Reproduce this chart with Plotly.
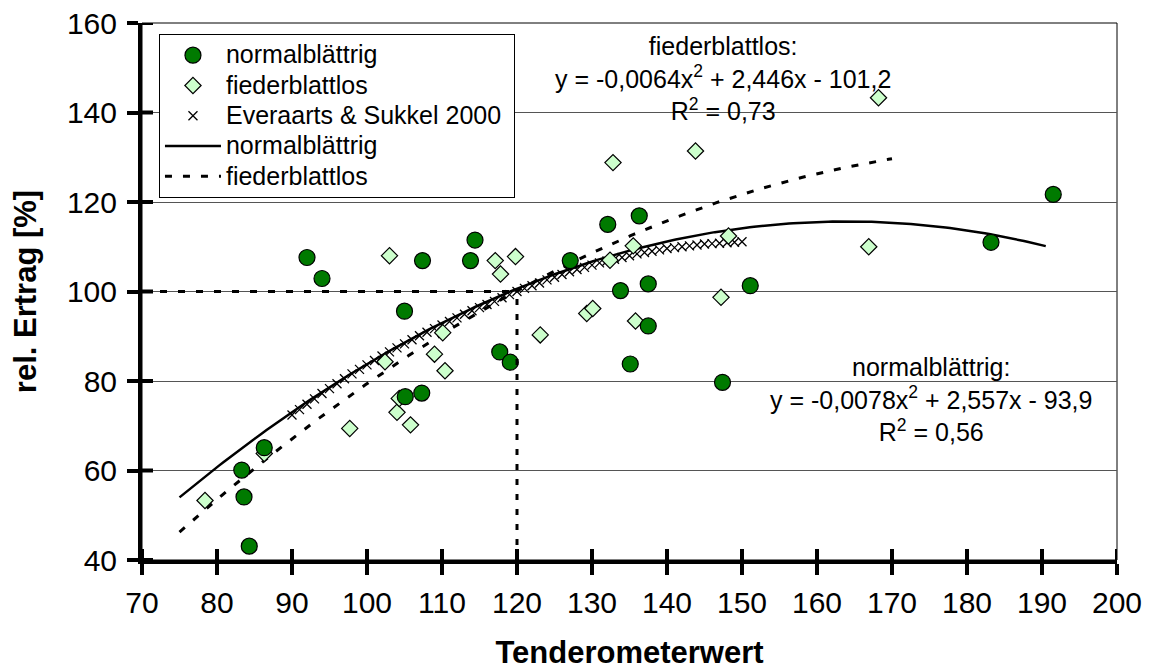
import numpy as np
import plotly.graph_objects as go

# --- measured data -------------------------------------------------------
# normalblättrig (normal-leaved) varieties: tenderometer value, relative yield
normal_tm = [83.3, 83.6, 84.3, 86.3, 92.0, 94.0, 105.0, 105.1, 107.3, 107.4,
             113.8, 114.4, 117.7, 119.1, 127.1, 132.1, 133.8, 135.1, 136.3,
             137.5, 137.5, 147.4, 151.1, 183.2, 191.5]
normal_yield = [60.1, 54.1, 43.1, 65.1, 107.6, 102.9, 95.6, 76.5, 77.3, 106.9,
                106.9, 111.5, 86.5, 84.2, 106.9, 115.0, 100.2, 83.8, 116.9,
                101.7, 92.3, 79.7, 101.3, 111.0, 121.7]

# fiederblattlos (semi-leafless) varieties
leafless_tm = [78.4, 86.3, 97.7, 102.4, 103.0, 104.0, 104.3, 105.8, 109.0,
               110.1, 110.4, 117.1, 117.8, 119.8, 123.1, 129.3, 130.1, 132.4,
               132.8, 135.5, 135.8, 143.8, 147.2, 148.2, 166.9, 168.2]
leafless_yield = [53.3, 63.8, 69.4, 84.3, 108.0, 73.0, 76.1, 70.2, 86.0,
                  90.8, 82.3, 106.9, 103.9, 107.8, 90.3, 95.1, 96.2, 107.0,
                  128.8, 110.2, 93.4, 131.4, 98.7, 112.4, 110.0, 143.3]

# Everaarts & Sukkel 2000 reference relation
everaarts_tm = list(range(90, 151))
everaarts_yield = [72.4, 73.6, 74.8, 76.0, 77.2, 78.3, 79.4, 80.5, 81.6, 82.6,
                   83.6, 84.6, 85.6, 86.5, 87.4, 88.3, 89.2, 90.1, 90.9, 91.7,
                   92.5, 93.3, 94.1, 94.9, 95.7, 96.4, 97.1, 97.8, 98.6, 99.3,
                   100.0, 100.7, 101.3, 101.9, 102.6, 103.2, 103.8, 104.4, 104.9,
                   105.4, 105.9, 106.4, 106.8, 107.2, 107.6, 108.0, 108.4, 108.7,
                   109.0, 109.3, 109.6, 109.8, 110.0, 110.2, 110.4, 110.6, 110.7,
                   110.8, 110.9, 111.0, 111.1]

# quadratic trend lines (coefficients a, b, c of y = a*x^2 + b*x + c)
normal_coef = (-0.0078, 2.557, -93.9)
normal_r2 = "0,56"
normal_span = (75, 190.5)
leafless_coef = (-0.0064, 2.446, -101.2)
leafless_r2 = "0,73"
leafless_span = (75, 170)

# reference point: tenderometer 120 = 100 % yield
ref_tm = 120
ref_yield = 100

x_range = [70, 200]
y_range = [40, 160]
x_ticks = list(range(70, 201, 10))
y_ticks = list(range(40, 161, 20))

FONT = "Liberation Sans, Arial, Helvetica, sans-serif"
GREEN = "#007a00"
LIGHT = "#ccffcc"


def trend(coef, span):
    xs = np.linspace(span[0], span[1], 200)
    a, b, c = coef
    return xs, a * xs ** 2 + b * xs + c


def legend_label(text):
    return f'<span style="font-size:25px">{text}</span>'


fig = go.Figure()

nx, ny = trend(normal_coef, normal_span)
lx, ly = trend(leafless_coef, leafless_span)

fig.add_trace(go.Scatter(x=nx, y=ny, mode="lines",
                         name=legend_label("normalblättrig"),
                         line=dict(color="black", width=2.5), legendrank=4))
fig.add_trace(go.Scatter(x=lx, y=ly, mode="lines",
                         name=legend_label("fiederblattlos"),
                         line=dict(color="black", width=3, dash="7px,11px"),
                         legendrank=5))
fig.add_trace(go.Scatter(x=everaarts_tm, y=everaarts_yield, mode="markers",
                         name=legend_label("Everaarts & Sukkel 2000&nbsp;"),
                         marker=dict(symbol="x-thin", size=9, color="black",
                                     line=dict(color="black", width=1.3)),
                         legendrank=3))
fig.add_trace(go.Scatter(x=leafless_tm, y=leafless_yield, mode="markers",
                         name=legend_label("fiederblattlos"),
                         marker=dict(symbol="diamond", size=12.5, color=LIGHT,
                                     line=dict(color="black", width=1.2)),
                         legendrank=2))
fig.add_trace(go.Scatter(x=normal_tm, y=normal_yield, mode="markers",
                         name=legend_label("normalblättrig"),
                         marker=dict(symbol="circle", size=16, color=GREEN,
                                     line=dict(color="black", width=1.2)),
                         legendrank=1))

# dashed guide lines to the reference point
fig.add_shape(type="line", xref="x", yref="y", x0=x_range[0], x1=ref_tm,
              y0=ref_yield, y1=ref_yield,
              line=dict(color="black", width=3, dash="7px,11px"))
fig.add_shape(type="line", xref="x", yref="y", x0=ref_tm, x1=ref_tm,
              y0=y_range[0], y1=ref_yield,
              line=dict(color="black", width=3, dash="6px,9px"))

# thin frame on top and right
fig.add_shape(type="rect", xref="paper", yref="paper", x0=0, x1=1, y0=0, y1=1,
              line=dict(color="black", width=1), layer="below")

# tick marks reaching into the plot area as well (ticks cross the axis)
for t in x_ticks:
    fig.add_shape(type="line", xref="x", yref="y", x0=t, x1=t,
                  ysizemode="pixel", yanchor=y_range[0], y0=0, y1=11,
                  line=dict(color="black", width=4))
for t in y_ticks:
    fig.add_shape(type="line", xref="x", yref="y", y0=t, y1=t,
                  xsizemode="pixel", xanchor=x_range[0], x0=0, x1=11,
                  line=dict(color="black", width=4))


def eq_text(label, coef, r2):
    a, b, c = coef
    fmt = lambda v, d: f"{abs(v):.{d}f}".replace(".", ",")
    sign_b = "+" if b >= 0 else "-"
    sign_c = "+" if c >= 0 else "-"
    return (f"{label}:<br>y = -{fmt(a, 4)}x<sup>2</sup> {sign_b} {fmt(b, 3)}x "
            f"{sign_c} {fmt(c, 1)}<br>R<sup>2</sup> = {r2}")


fig.add_annotation(x=147.4, y=147.7, xref="x", yref="y", showarrow=False,
                   text=eq_text("fiederblattlos", leafless_coef, leafless_r2),
                   align="center", font=dict(size=25, color="black", family=FONT))
fig.add_annotation(x=175.2, y=75.9, xref="x", yref="y", showarrow=False,
                   text=eq_text("normalblättrig", normal_coef, normal_r2),
                   align="center", font=dict(size=25, color="black", family=FONT))

axis_common = dict(showline=True, linecolor="black", linewidth=4,
                   ticks="outside", ticklen=11, tickwidth=4, tickcolor="black",
                   zeroline=False, automargin=False,
                   tickfont=dict(size=30, color="black", family=FONT))

fig.update_layout(
    width=1149, height=670,
    margin=dict(l=142, r=32, t=23, b=110),
    paper_bgcolor="white", plot_bgcolor="white",
    font=dict(family=FONT, color="black"),
    xaxis=dict(range=x_range, tickvals=x_ticks, showgrid=False,
               ticklabelstandoff=2,
               title=dict(text="<b>Tenderometerwert</b>", standoff=35,
                          font=dict(size=31, family=FONT, color="black")),
               **axis_common),
    yaxis=dict(range=y_range, tickvals=y_ticks, showgrid=True,
               gridcolor="#555555", gridwidth=1, ticklabelstandoff=4,
               title=dict(text="<b>rel. Ertrag [%]</b>", standoff=22,
                          font=dict(size=31, family=FONT, color="black")),
               **axis_common),
    legend=dict(x=0.0174, y=0.9795, xanchor="left", yanchor="top",
                bordercolor="black", borderwidth=1, bgcolor="white",
                font=dict(size=21, family=FONT, color="black"),
                itemwidth=56, tracegroupgap=0, traceorder="normal"),
    showlegend=True,
)

fig.write_html("out.html")
